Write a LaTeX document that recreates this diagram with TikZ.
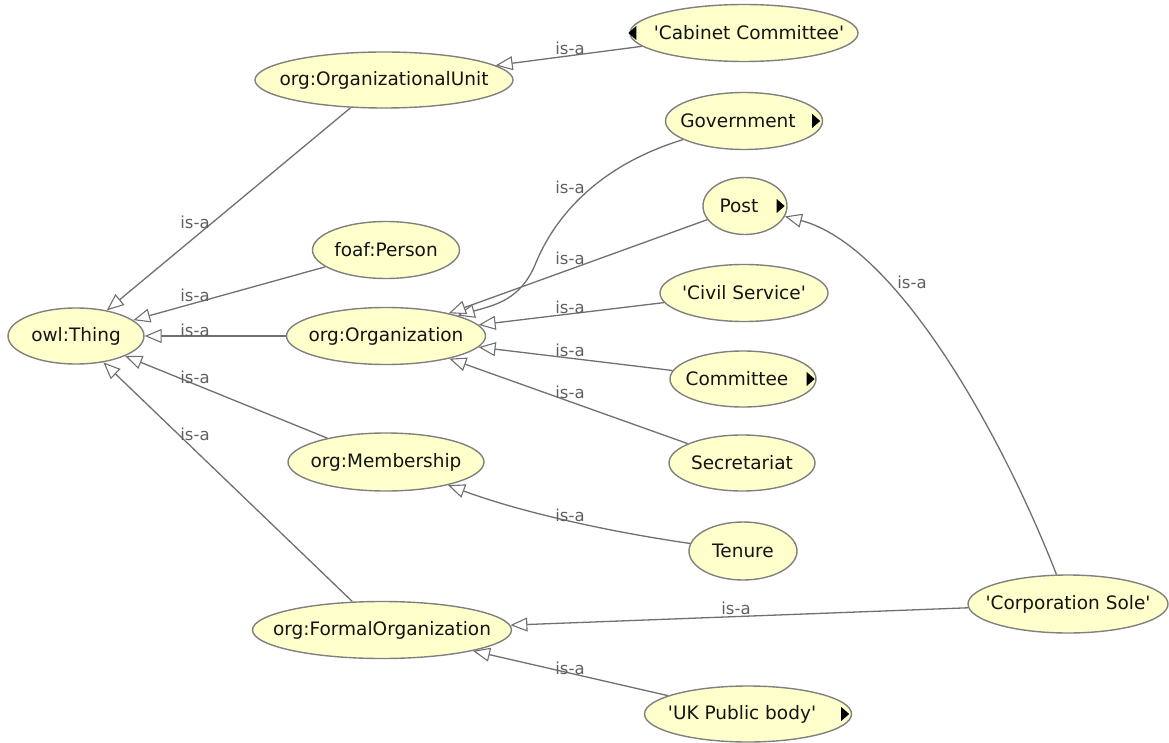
\documentclass[tikz,border=0pt]{standalone}
\usepackage{fontspec}
\usetikzlibrary{arrows.meta,shapes.geometric}
\newfontfamily\nodefont{DejaVu Sans}
\definecolor{classfill}{RGB}{255,255,204}
\definecolor{classline}{RGB}{128,128,128}
\definecolor{edgeline}{RGB}{112,112,112}
\definecolor{labelgray}{RGB}{96,96,96}
\definecolor{classtext}{RGB}{20,20,20}
% text of fixed-size class ellipses: zero width so the ellipse size is set by minimum width/height
\newcommand\ctext[1]{\makebox[0pt]{#1}}

\begin{document}
\begin{tikzpicture}[x=1pt,y=-1pt,
  cls/.style={ellipse, draw=classline, fill=classfill, line width=1.4pt,
    inner sep=0pt, text=classtext, font=\nodefont\fontsize{18.5}{20}\selectfont},
  isa/.style={draw=edgeline, line width=1.3pt,
    -{Triangle[length=17pt,width=14pt,fill=white,line width=1.1pt]}},
  isalabel/.style={font=\nodefont\fontsize{16.5}{18}\selectfont, text=labelgray, inner sep=0pt},
  more/.style={fill=black}]

\useasboundingbox[fill=white] (0,0) rectangle (1169,743);

% classes
\node[cls, minimum width=136pt, minimum height=56pt] (thing) at (76,336) {\ctext{owl:Thing}};
\node[cls, minimum width=258pt, minimum height=56pt] (unit) at (384,80) {\ctext{org:OrganizationalUnit}};
\node[cls, minimum width=228pt, minimum height=57pt] (cabinet) at (744,33) {\ctext{\hspace*{10pt}'Cabinet Committee'}};
\node[cls, minimum width=157pt, minimum height=57pt] (gov) at (744,121) {\ctext{Government\hspace*{12pt}}};
\node[cls, minimum width=84pt, minimum height=57pt] (post) at (745,206) {\ctext{Post\hspace*{12pt}}};
\node[cls, minimum width=147pt, minimum height=57pt] (person) at (386,250) {\ctext{foaf:Person}};
\node[cls, minimum width=168pt, minimum height=57pt] (civil) at (744,293) {\ctext{'Civil Service'}};
\node[cls, minimum width=199pt, minimum height=57pt] (org) at (386,336) {\ctext{org:Organization}};
\node[cls, minimum width=146pt, minimum height=56pt] (committee) at (743,379) {\ctext{Committee\hspace*{12pt}}};
\node[cls, minimum width=146pt, minimum height=56pt] (secretariat) at (742,463) {\ctext{Secretariat}};
\node[cls, minimum width=196pt, minimum height=58pt] (memb) at (386,462) {\ctext{org:Membership}};
\node[cls, minimum width=108pt, minimum height=58pt] (tenure) at (743,551) {\ctext{Tenure}};
\node[cls, minimum width=200pt, minimum height=58pt] (corp) at (1068,604) {\ctext{'Corporation Sole'}};
\node[cls, minimum width=259pt, minimum height=57pt] (formal) at (382,630) {\ctext{org:FormalOrganization}};
\node[cls, minimum width=207pt, minimum height=56pt] (uk) at (748,714) {\ctext{'UK Public body'\hspace*{12pt}}};

% markers for classes with hidden sub/super classes
\fill[more] (cabinet.west) ++(-1,0) -- ++(8,-7) -- ++(0,14) -- cycle;
\fill[more] (gov.east) ++(-3,0) -- ++(-8,-7) -- ++(0,14) -- cycle;
\fill[more] (post.east) ++(-3,0) -- ++(-8,-7) -- ++(0,14) -- cycle;
\fill[more] (committee.east) ++(-2,0) -- ++(-8,-7) -- ++(0,14) -- cycle;
\fill[more] (uk.east) ++(-3,0) -- ++(-8,-7) -- ++(0,14) -- cycle;

% subclass links
\draw[isa] (unit) -- (thing);
\draw[isa] (person) -- (thing);
\draw[isa] (org) -- (thing);
\draw[isa] (memb) -- (thing);
\draw[isa] (formal) -- (thing);
\draw[isa] (cabinet) -- (unit);
\draw[isa] (gov) .. controls (600,165) and (555,215) .. (535,265)
               .. controls (520,300) and (495,305) .. (org);
\draw[isa] (post) -- (org);
\draw[isa] (civil) -- (org);
\draw[isa] (committee) -- (org);
\draw[isa] (secretariat) -- (org);
\draw[isa] (tenure) .. controls (610,532) and (520,512) .. (memb);
\draw[isa] (corp) .. controls (1000,430) and (895,245) .. (post);
\draw[isa] (corp) -- (formal);
\draw[isa] (uk) -- (formal);

% link labels
\node[isalabel] (l1) at (195,222) {is-a};
\node[isalabel] (l2) at (195,295) {is-a};
\node[isalabel] (l3) at (195,330) {is-a};
\node[isalabel] (l4) at (195,377) {is-a};
\node[isalabel] (l5) at (195,434) {is-a};
\node[isalabel] (l6) at (570,48) {is-a};
\node[isalabel] (l7) at (570,187) {is-a};
\node[isalabel] (l8) at (570,258) {is-a};
\node[isalabel] (l9) at (570,307) {is-a};
\node[isalabel] (l10) at (570,350) {is-a};
\node[isalabel] (l11) at (570,392) {is-a};
\node[isalabel] (l12) at (570,515) {is-a};
\node[isalabel] (l13) at (912,282) {is-a};
\node[isalabel] (l14) at (736,608) {is-a};
\node[isalabel] (l15) at (570,668) {is-a};
\end{tikzpicture}
\end{document}
